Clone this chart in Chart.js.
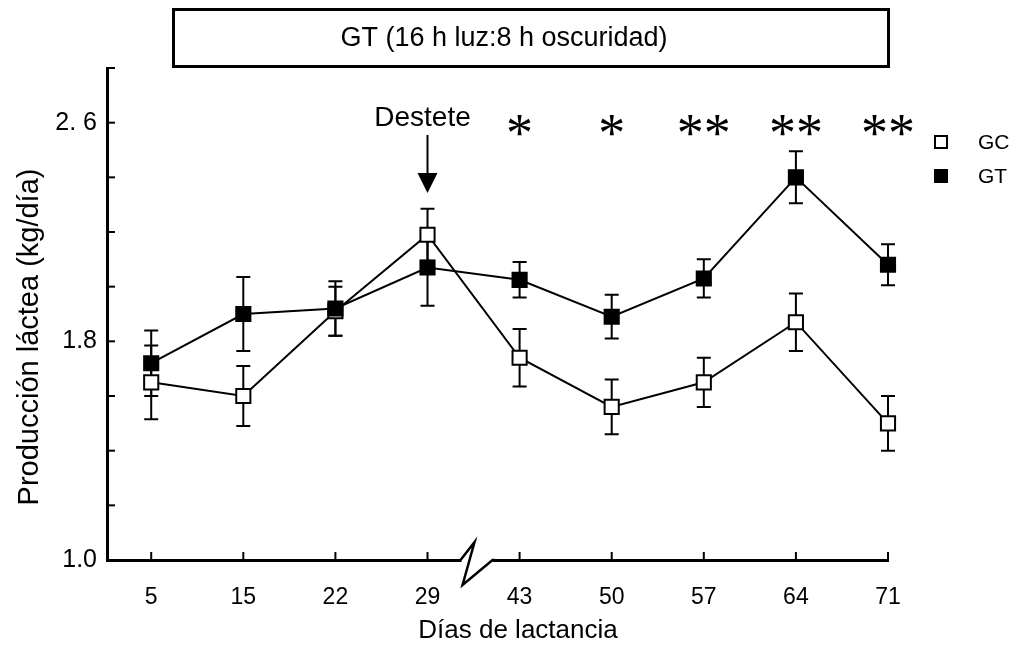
<!DOCTYPE html>
<html>
<head>
<meta charset="utf-8">
<script src="https://cdn.jsdelivr.net/npm/chart.js@4.4.1/dist/chart.umd.min.js"></script>
<style>
  html, body { margin: 0; padding: 0; background: #fff; }
  #grafico { display: block; }
</style>
</head>
<body>
<canvas id="grafico" width="1020" height="651"></canvas>
<script>
// Producción láctea por día de lactancia, GC vs GT

const dias = ['5', '15', '22', '29', '43', '50', '57', '64', '71'];

// Medias y errores (kg/día)
const gcMedia = [1.65, 1.60, 1.91, 2.19, 1.74, 1.56, 1.65, 1.87, 1.50];
const gcError = [0.135, 0.11, 0.09, 0.095, 0.105, 0.10, 0.09, 0.105, 0.10];
const gtMedia = [1.72, 1.90, 1.92, 2.07, 2.025, 1.89, 2.03, 2.40, 2.08];
const gtError = [0.12, 0.135, 0.10, 0.14, 0.065, 0.08, 0.07, 0.095, 0.075];

// Significancia sobre cada día
const asteriscos = ['', '', '', '', '*', '*', '**', '**', '**'];

// Etiquetas del eje y (las demás marcas van sin texto)
const yEtiquetaValores = [1.0, 1.8, 2.6];
const yEtiquetaTextos = ['1.0', '1.8', '2. 6'];

const FUENTE = '"Liberation Sans", Arial, sans-serif';

/**
 * Draw vertical error bars with caps for one series
 */
function dibujarErrores(ctx, xs, ys, medias, errores) {
  medias.forEach((m, i) => {
    const px = xs.getPixelForValue(i);
    const arriba = ys.getPixelForValue(m + errores[i]);
    const abajo = ys.getPixelForValue(m - errores[i]);
    ctx.beginPath();
    ctx.moveTo(px, arriba);
    ctx.lineTo(px, abajo);
    ctx.moveTo(px - 7, arriba);
    ctx.lineTo(px + 7, arriba);
    ctx.moveTo(px - 7, abajo);
    ctx.lineTo(px + 7, abajo);
    ctx.stroke();
  });
}

const decoracion = {
  id: 'decoracion',
  beforeDatasetsDraw(chart) {
    const { ctx, scales: { x, y } } = chart;
    ctx.save();
    ctx.strokeStyle = '#000';
    ctx.lineWidth = 2;
    dibujarErrores(ctx, x, y, gcMedia, gcError);
    dibujarErrores(ctx, x, y, gtMedia, gtError);
    ctx.restore();
  },
  afterDraw(chart) {
    const { ctx, chartArea: area, scales: { x, y } } = chart;
    ctx.save();
    ctx.strokeStyle = '#000';
    ctx.fillStyle = '#000';

    // marcas hacia dentro
    ctx.lineWidth = 2;
    y.ticks.forEach(t => {
      const py = y.getPixelForValue(t.value);
      ctx.beginPath();
      ctx.moveTo(area.left, py);
      ctx.lineTo(area.left + 8, py);
      ctx.stroke();
    });
    x.ticks.forEach(t => {
      const px = x.getPixelForValue(t.value);
      ctx.beginPath();
      ctx.moveTo(px, area.bottom);
      ctx.lineTo(px, area.bottom - 8);
      ctx.stroke();
    });

    // corte del eje x entre 29 y 43
    const xb = x.getPixelForValue(3.5);
    const yb = area.bottom;
    ctx.fillStyle = '#fff';
    ctx.fillRect(xb - 12, yb - 3, 31, 6);
    ctx.lineWidth = 2.5;
    ctx.beginPath();
    ctx.moveTo(xb - 13, yb);
    ctx.lineTo(xb + 1, yb - 18);
    ctx.lineTo(xb - 11, yb + 25);
    ctx.lineTo(xb + 19, yb);
    ctx.lineTo(xb + 21, yb);
    ctx.stroke();
    ctx.fillStyle = '#000';

    // recuadro del título
    ctx.lineWidth = 3;
    ctx.strokeRect(173.5, 9.5, 715, 57);
    ctx.font = '27px ' + FUENTE;
    ctx.textAlign = 'center';
    ctx.textBaseline = 'middle';
    ctx.fillText('GT (16 h luz:8 h oscuridad)', 504, 39);

    // destete
    const xd = x.getPixelForValue(3);
    ctx.font = '28px ' + FUENTE;
    ctx.fillText('Destete', xd - 5, 118);
    ctx.lineWidth = 2;
    ctx.beginPath();
    ctx.moveTo(xd, 135);
    ctx.lineTo(xd, 176);
    ctx.stroke();
    ctx.beginPath();
    ctx.moveTo(xd - 10, 173);
    ctx.lineTo(xd + 10, 173);
    ctx.lineTo(xd, 193);
    ctx.closePath();
    ctx.fill();

    // asteriscos
    ctx.font = '54px "Liberation Serif", "Times New Roman", serif';
    ctx.textBaseline = 'alphabetic';
    asteriscos.forEach((a, i) => {
      if (a) ctx.fillText(a, x.getPixelForValue(i), 151);
    });

    // leyenda
    ctx.lineWidth = 2;
    ctx.fillStyle = '#fff';
    ctx.fillRect(935, 136, 12, 12);
    ctx.strokeRect(935, 136, 12, 12);
    ctx.fillStyle = '#000';
    ctx.fillRect(934, 169, 14, 14);
    ctx.font = '21px ' + FUENTE;
    ctx.textAlign = 'left';
    ctx.textBaseline = 'middle';
    ctx.fillText('GC', 978, 143);
    ctx.fillText('GT', 978, 177);

    // títulos de los ejes
    ctx.textAlign = 'center';
    ctx.font = '26px ' + FUENTE;
    ctx.fillText('Días de lactancia', 518, 631);
    ctx.font = '29px ' + FUENTE;
    ctx.translate(30, 337);
    ctx.rotate(-Math.PI / 2);
    ctx.fillText('Producción láctea (kg/día)', 0, 0);
    ctx.restore();
  }
};

const serieComun = {
  borderColor: '#000',
  borderWidth: 2,
  pointStyle: 'rect',
  pointRadius: 10,
  pointBorderWidth: 2,
  pointBorderColor: '#000',
  tension: 0,
  clip: false
};

new Chart(document.getElementById('grafico'), {
  type: 'line',
  data: {
    datasets: [
      {
        ...serieComun,
        label: 'GC',
        data: gcMedia.map((v, i) => ({ x: i, y: v })),
        pointBackgroundColor: '#fff',
        order: 2
      },
      {
        ...serieComun,
        label: 'GT',
        data: gtMedia.map((v, i) => ({ x: i, y: v })),
        pointBackgroundColor: '#000',
        order: 1
      }
    ]
  },
  options: {
    responsive: false,
    animation: false,
    devicePixelRatio: 1,
    layout: { padding: { left: 0, right: 132, top: 68, bottom: 0 } },
    plugins: {
      legend: { display: false },
      tooltip: { enabled: false }
    },
    scales: {
      x: {
        type: 'linear',
        min: -0.48,
        max: 8,
        afterFit: s => { s.height = 91; },
        afterBuildTicks: s => { s.ticks = dias.map((_, i) => ({ value: i })); },
        grid: { drawOnChartArea: false, drawTicks: false },
        border: { display: true, color: '#000', width: 3 },
        ticks: {
          padding: 24,
          color: '#000',
          font: { family: FUENTE, size: 23 },
          callback: v => dias[v]
        }
      },
      y: {
        min: 1.0,
        max: 2.8,
        afterFit: s => { s.width = 107; },
        grid: { drawOnChartArea: false, drawTicks: false },
        border: { display: true, color: '#000', width: 3 },
        ticks: {
          stepSize: 0.2,
          padding: 10,
          color: '#000',
          font: { family: FUENTE, size: 25 },
          callback: v => {
            const k = yEtiquetaValores.findIndex(t => Math.abs(t - v) < 1e-6);
            return k >= 0 ? yEtiquetaTextos[k] : '';
          }
        }
      }
    }
  },
  plugins: [decoracion]
});
</script>
</body>
</html>
